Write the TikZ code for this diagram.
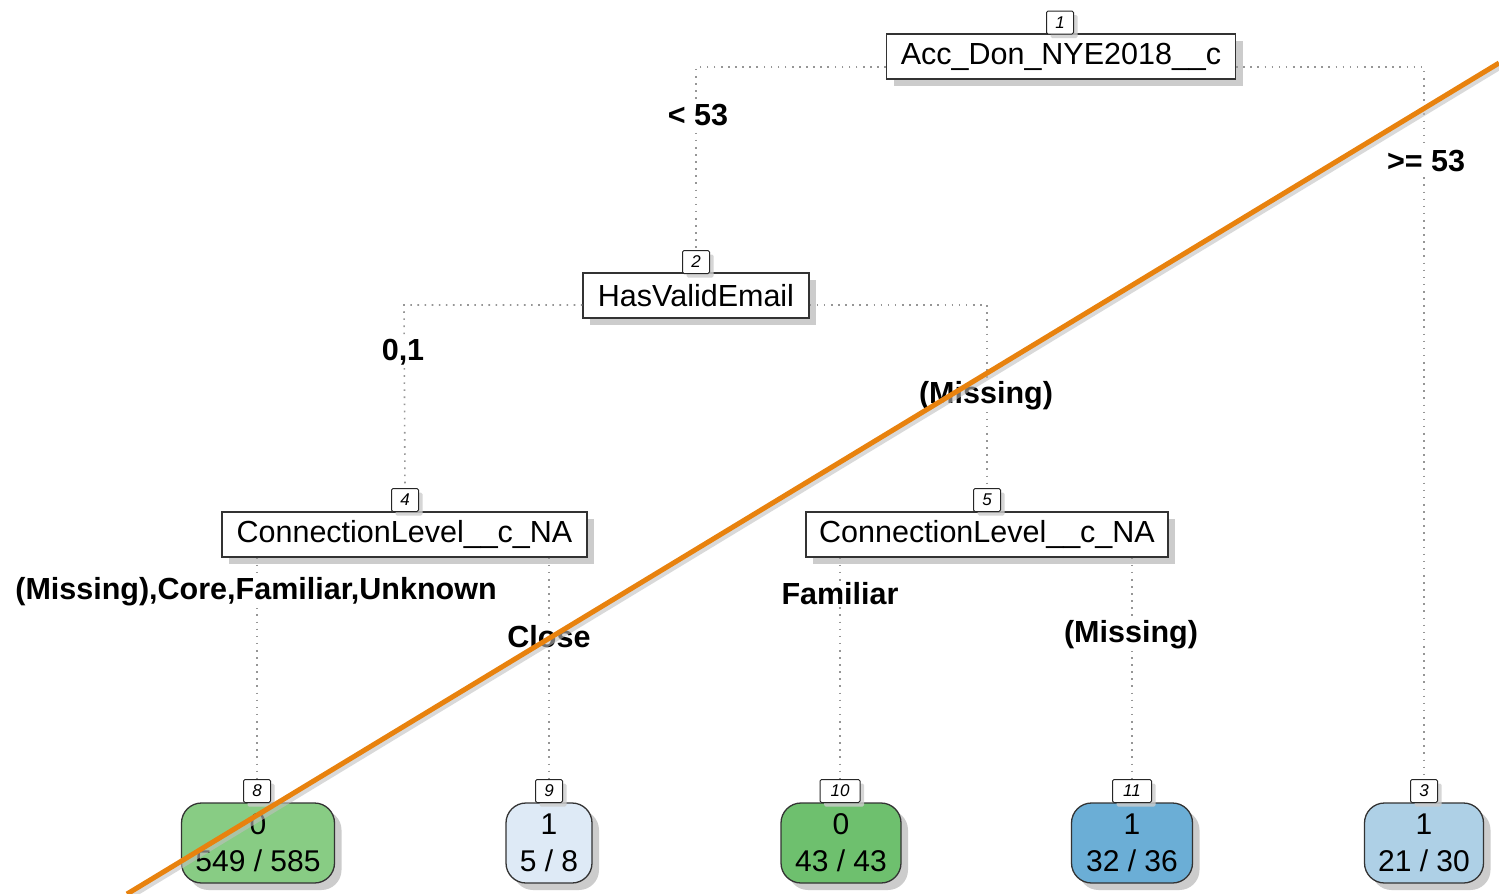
\documentclass[tikz,border=0pt]{standalone}
\usepackage{fontspec}
\setmainfont{Liberation Sans}
\usetikzlibrary{shadows}
\definecolor{leafA}{RGB}{136,204,132}
\definecolor{leafB}{RGB}{222,234,246}
\definecolor{leafC}{RGB}{110,192,110}
\definecolor{leafD}{RGB}{107,174,214}
\definecolor{leafE}{RGB}{174,208,230}
\definecolor{cutline}{RGB}{232,130,14}
\definecolor{connc}{RGB}{150,150,150}
\begin{document}
\begin{tikzpicture}[x=1pt,y=-1pt,
  splitbox/.style={draw=black!80, line width=1.3pt, fill=white, minimum height=45pt,
    inner sep=0pt, font=\fontsize{30.5}{31}\selectfont,
    drop shadow={shadow xshift=7pt, shadow yshift=-7pt, fill=black!25, opacity=0.8}},
  leafbox/.style={draw=black!80, line width=1.3pt, rounded corners=20pt, minimum height=80pt,
    inner sep=0pt, align=center, font=\fontsize{30}{37}\selectfont,
    drop shadow={shadow xshift=7pt, shadow yshift=-7pt, fill=black!25, opacity=0.8}},
  numbox/.style={draw=black!85, line width=1pt, fill=white, rounded corners=1.5pt,
    minimum height=23pt, minimum width=27pt, inner sep=1pt,
    font=\fontsize{17}{17}\selectfont\itshape,
    drop shadow={shadow xshift=4pt, shadow yshift=-4pt, fill=black!20, opacity=0.8}},
  edgelabel/.style={fill=white, inner sep=1.5pt, font=\fontsize{30.5}{31}\selectfont\bfseries},
  conn/.style={draw=connc, line width=1.6pt, dash pattern=on 1.6pt off 5.5pt},
]
\clip (0,0) rectangle (1499,894);
\useasboundingbox (0,0) rectangle (1499,894);

\coordinate (c1L) at (696,67);
\coordinate (c1R) at (1424,67);
\coordinate (c2L) at (404,305);
\coordinate (c2R) at (987,305);

% split nodes
\node[splitbox, minimum width=349pt] (n1) at (1061,56.5) {Acc\_Don\_NYE2018\_\_c};
\node[numbox] (t1) at (1060,22.5) {1};
\node[splitbox, minimum width=226pt] (n2) at (696,295.5) {HasValidEmail};
\node[numbox] (t2) at (696,262) {2};
\node[splitbox, minimum width=365pt] (n4) at (404.5,534.5) {ConnectionLevel\_\_c\_NA};
\node[numbox] (t4) at (405,500) {4};
\node[splitbox, minimum width=362pt] (n5) at (987,534.5) {ConnectionLevel\_\_c\_NA};
\node[numbox] (t5) at (987,500) {5};

% leaves
\node[leafbox, fill=leafA, minimum width=153pt] (l8) at (258,843) {0\\549 / 585};
\node[numbox] (t8) at (257,791) {8};
\node[leafbox, fill=leafB, minimum width=86pt] (l9) at (549,843) {1\\5 / 8};
\node[numbox] (t9) at (549,791) {9};
\node[leafbox, fill=leafC, minimum width=120pt] (l10) at (841,843) {0\\43 / 43};
\node[numbox, minimum width=40pt] (t10) at (840,791) {10};
\node[leafbox, fill=leafD, minimum width=121pt] (l11) at (1132,843) {1\\32 / 36};
\node[numbox, minimum width=39pt] (t11) at (1132,791) {11};
\node[leafbox, fill=leafE, minimum width=119pt] (l3) at (1424,843) {1\\21 / 30};
\node[numbox] (t3) at (1424,791) {3};

% connectors
\draw[conn] (n1.west |- c1L) -- (c1L) -- (t2.north);
\draw[conn] (n1.east |- c1R) -- (c1R) -- (t3.north);
\draw[conn] (n2.west |- c2L) -- (c2L) -- (t4.north);
\draw[conn] (n2.east |- c2R) -- (c2R) -- (t5.north);
\draw[conn] (t8.north |- n4.south) -- (t8.north);
\draw[conn] (t9.north |- n4.south) -- (t9.north);
\draw[conn] (t10.north |- n5.south) -- (t10.north);
\draw[conn] (t11.north |- n5.south) -- (t11.north);

% edge labels
\node[edgelabel] (e1) at (698,115) {< 53};
\node[edgelabel] (e2) at (1426,161) {>= 53};
\node[edgelabel] (e3) at (403,352) {0,1};
\node[edgelabel] (e4) at (986,396) {(Missing)};
\node[edgelabel] (e5) at (256,592) {(Missing),Core,Familiar,Unknown};
\node[edgelabel] (e6) at (549,637) {Close};
\node[edgelabel] (e7) at (840,594) {Familiar};
\node[edgelabel] (e8) at (1131,635) {(Missing)};

% orange cut line
\coordinate (o1) at (127,894);
\coordinate (o2) at (1499,63);
\draw[black!25, line width=5pt, opacity=0.6] ([xshift=3pt,yshift=-3pt]o1) -- ([xshift=3pt,yshift=-3pt]o2);
\draw[cutline, line width=5pt] (o1) -- (o2);
\end{tikzpicture}
\end{document}
